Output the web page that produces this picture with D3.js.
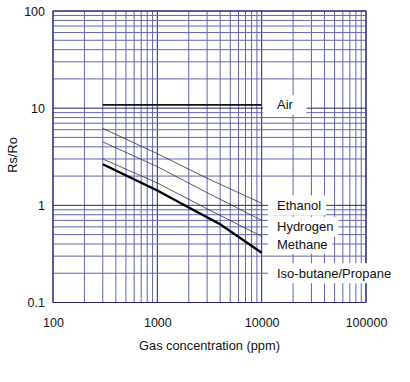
<!DOCTYPE html>
<html><head><meta charset="utf-8">
<script src="https://cdn.jsdelivr.net/npm/d3@7"></script>
<style>html,body{margin:0;padding:0;background:#fff;}svg{display:block;}</style>
</head><body>
<svg id="c" width="410" height="382"></svg>
<script>
const xTickValues = [100, 1000, 10000, 100000];
const xTickLabels = ["100", "1000", "10000", "100000"];
const yTickValues = [0.1, 1, 10, 100];
const yTickLabels = ["0.1", "1", "10", "100"];
const seriesNames = ["Air", "Ethanol", "Hydrogen", "Methane", "Iso-butane/Propane"];
const airPts = [[300, 10.8], [10000, 10.8]];
const ethanolPts = [[300, 6.2], [1000, 3.4], [3000, 1.9], [10000, 1.05]];
const hydrogenPts = [[300, 4.5], [1000, 2.5], [3000, 1.35], [10000, 0.7]];
const methanePts = [[300, 3.0], [1000, 1.7], [3000, 0.92], [10000, 0.48]];
const isobutanePts = [[300, 2.65], [1000, 1.42], [2000, 0.95], [4000, 0.64], [10000, 0.325]];
const labelValues = [10.8, 1.0, 0.6, 0.4, 0.2];
const xTitle = "Gas concentration (ppm)";
const yTitle = "Rs/Ro";

const svg = d3.select("#c");
const x = d3.scaleLog().domain([100, 100000]).range([53, 366]);
const y = d3.scaleLog().domain([0.1, 100]).range([302.5, 11]);
const font = "Liberation Sans, Arial, sans-serif";
const isMajor = v => Math.abs(Math.log10(v) - Math.round(Math.log10(v))) < 1e-9;
const minorCol = "#6464b0", majorCol = "#24247a";

const grid = svg.append("g");
grid.selectAll("line.v").data(x.ticks()).enter().append("line")
  .attr("x1", d => x(d)).attr("x2", d => x(d)).attr("y1", y(100)).attr("y2", y(0.1))
  .attr("stroke", d => isMajor(d) ? majorCol : minorCol).attr("stroke-width", 1);
grid.selectAll("line.h").data(y.ticks()).enter().append("line")
  .attr("y1", d => y(d)).attr("y2", d => y(d)).attr("x1", x(100)).attr("x2", x(100000))
  .attr("stroke", d => isMajor(d) ? majorCol : minorCol).attr("stroke-width", 1);
svg.append("rect").attr("x", x(100)).attr("y", y(100))
  .attr("width", x(100000) - x(100)).attr("height", y(0.1) - y(100))
  .attr("fill", "none").attr("stroke", majorCol).attr("stroke-width", 1);

const line = d3.line().x(d => x(d[0])).y(d => y(d[1]));
const curves = [
  {pts: airPts, w: 1.8, c: "#111"},
  {pts: ethanolPts, w: 0.8, c: "#333"},
  {pts: hydrogenPts, w: 0.8, c: "#333"},
  {pts: methanePts, w: 0.8, c: "#333"},
  {pts: isobutanePts, w: 2.4, c: "#000"}
];
svg.selectAll("path.curve").data(curves).enter().append("path")
  .attr("d", d => line(d.pts)).attr("fill", "none")
  .attr("stroke", d => d.c).attr("stroke-width", d => d.w);

const lab = svg.append("g");
seriesNames.forEach((name, i) => {
  const g = lab.append("g");
  const rect = g.append("rect").attr("fill", "#fff");
  const t = g.append("text").attr("x", 277).attr("y", y(labelValues[i]))
    .attr("dy", "0.35em").attr("font-family", font).attr("font-size", 13)
    .attr("fill", "#111").text(name);
  const bb = t.node().getBBox();
  const padL = i === 0 ? 14 : 9, padR = i === 0 ? 13 : 5;
  rect.attr("x", bb.x - padL).attr("y", y(labelValues[i]) - 10)
    .attr("width", bb.width + padL + padR).attr("height", 20);
});

const xa = svg.append("g").attr("transform", `translate(0,${y(0.1)})`)
  .call(d3.axisBottom(x).tickValues(xTickValues).tickSize(0).tickPadding(0)
    .tickFormat((d, i) => xTickLabels[i]));
xa.select(".domain").remove();
xa.selectAll("text").attr("y", 24.5).attr("dy", "0").attr("font-family", font).attr("font-size", 12.5).attr("fill", "#111");

const ya = svg.append("g").attr("transform", `translate(${x(100)},0)`)
  .call(d3.axisLeft(y).tickValues(yTickValues).tickSize(0).tickPadding(0)
    .tickFormat((d, i) => yTickLabels[i]));
ya.select(".domain").remove();
ya.selectAll("text").attr("x", -8).attr("dy", "0.35em").attr("font-family", font).attr("font-size", 12.5).attr("fill", "#111");

svg.append("text").attr("x", 209.5).attr("y", 350).attr("text-anchor", "middle")
  .attr("font-family", font).attr("font-size", 12.8).attr("fill", "#111").text(xTitle);
svg.append("text").attr("transform", "translate(17,155) rotate(-90)").attr("text-anchor", "middle")
  .attr("font-family", font).attr("font-size", 12.8).attr("fill", "#111").text(yTitle);
</script>
</body></html>
